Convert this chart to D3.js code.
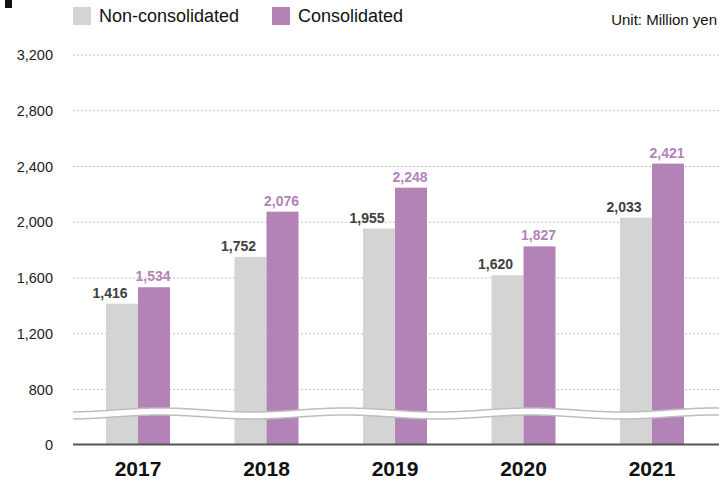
<!DOCTYPE html>
<html lang="en">
  <head>
    <meta charset="utf-8" />
    <title>Sales chart</title>
    <style>
      body {
        margin: 0;
        padding: 0;
        background: #fff;
      }

      svg text {
        font-family: "Liberation Sans", Arial, sans-serif;
      }
    </style>
  </head>
  <body>
    <svg id="chart" width="719" height="484"></svg>

    <script src="https://cdn.jsdelivr.net/npm/d3@7"></script>
    <script>
      var years = ['2017', '2018', '2019', '2020', '2021'];
      var nonConsolidated = [1416, 1752, 1955, 1620, 2033];
      var consolidated = [1534, 2076, 2248, 1827, 2421];
      var yTicks = [0, 800, 1200, 1600, 2000, 2400, 2800, 3200];
      var seriesNames = ['Non-consolidated', 'Consolidated'];

      var GREY = '#d4d4d4';
      var PURPLE = '#b383b8';

      var svg = d3.select('#chart');

      // broken axis: 0..800 squeezed into one step
      var y = d3.scaleLinear()
        .domain([0, 800, 3200])
        .range([444.5, 389.5, 55]);

      var x = d3.scaleBand()
        .domain(years)
        .range([73.75, 716.25]);

      var barW = 32;

      // scrap of the page above the chart
      svg.append('rect')
        .attr('x', 5).attr('y', 0)
        .attr('width', 7).attr('height', 8)
        .attr('fill', '#111');

      // grid
      svg.append('g')
        .selectAll('line')
        .data(yTicks.filter(function(d) { return d > 0; }))
        .join('line')
        .attr('x1', 73).attr('x2', 719)
        .attr('y1', function(d) { return y(d); })
        .attr('y2', function(d) { return y(d); })
        .attr('stroke', '#c4c4c4')
        .attr('stroke-dasharray', '2,2')
        .attr('stroke-width', 1);

      // y labels
      var yAxis = d3.axisLeft(y)
        .tickValues(yTicks)
        .tickSize(0)
        .tickPadding(0)
        .tickFormat(d3.format(','));
      var gy = svg.append('g')
        .attr('transform', 'translate(53,0)')
        .call(yAxis);
      gy.select('.domain').remove();
      gy.selectAll('text')
        .attr('font-size', 14.5)
        .attr('font-family', '"Liberation Sans", Arial, sans-serif')
        .attr('fill', '#222');

      // bars
      var center = function(d) { return x(d) + x.bandwidth() / 2; };

      svg.append('g')
        .selectAll('rect')
        .data(years)
        .join('rect')
        .attr('x', function(d) { return center(d) - barW; })
        .attr('y', function(d, i) { return y(nonConsolidated[i]); })
        .attr('width', barW)
        .attr('height', function(d, i) { return y(0) - y(nonConsolidated[i]); })
        .attr('fill', GREY);

      svg.append('g')
        .selectAll('rect')
        .data(years)
        .join('rect')
        .attr('x', function(d) { return center(d); })
        .attr('y', function(d, i) { return y(consolidated[i]); })
        .attr('width', barW)
        .attr('height', function(d, i) { return y(0) - y(consolidated[i]); })
        .attr('fill', PURPLE);

      // value labels
      svg.append('g')
        .selectAll('text')
        .data(years)
        .join('text')
        .attr('x', function(d) { return center(d) - barW / 2 - 12; })
        .attr('y', function(d, i) { return y(nonConsolidated[i]) - 6; })
        .attr('text-anchor', 'middle')
        .attr('font-size', 14)
        .attr('font-weight', 'bold')
        .attr('fill', '#404040')
        .text(function(d, i) { return d3.format(',')(nonConsolidated[i]); });

      svg.append('g')
        .selectAll('text')
        .data(years)
        .join('text')
        .attr('x', function(d) { return center(d) + barW / 2 - 1; })
        .attr('y', function(d, i) { return y(consolidated[i]) - 6; })
        .attr('text-anchor', 'middle')
        .attr('font-size', 14)
        .attr('font-weight', 'bold')
        .attr('fill', PURPLE)
        .text(function(d, i) { return d3.format(',')(consolidated[i]); });

      // wavy break band
      var wave = function(px) {
        return 410 - 2 * Math.cos(2 * Math.PI * (px - 160) / 185);
      };
      var xs = d3.range(73, 720, 2);
      var upper = xs.map(function(px) { return [px, wave(px)]; });
      var lower = xs.map(function(px) { return [px, wave(px) + 7]; });
      var line = d3.line().curve(d3.curveBasis);

      svg.append('path')
        .attr('d', line(upper.concat(lower.slice().reverse())) + 'Z')
        .attr('fill', '#fff');
      [upper, lower].forEach(function(pts) {
        svg.append('path')
          .attr('d', line(pts))
          .attr('fill', 'none')
          .attr('stroke', '#bdbdbd')
          .attr('stroke-width', 1.5);
      });

      // baseline
      svg.append('line')
        .attr('x1', 73).attr('x2', 719)
        .attr('y1', y(0)).attr('y2', y(0))
        .attr('stroke', '#555')
        .attr('stroke-width', 2);

      // x labels
      var xAxis = d3.axisBottom(x).tickSize(0).tickPadding(0);
      var gx = svg.append('g')
        .attr('transform', 'translate(0,461)')
        .call(xAxis);
      gx.select('.domain').remove();
      gx.selectAll('text')
        .attr('dy', '0.71em')
        .attr('font-size', 21)
        .attr('font-weight', 'bold')
        .attr('font-family', '"Liberation Sans", Arial, sans-serif')
        .attr('fill', '#111');

      // legend
      var legendX = [73, 272];
      var legend = svg.append('g')
        .selectAll('g')
        .data(seriesNames)
        .join('g')
        .attr('transform', function(d, i) { return 'translate(' + legendX[i] + ',7)'; });
      legend.append('rect')
        .attr('width', 18).attr('height', 18)
        .attr('fill', function(d, i) { return i ? PURPLE : GREY; });
      legend.append('text')
        .attr('x', 26).attr('y', 15)
        .attr('font-size', 18)
        .attr('fill', '#111')
        .text(function(d) { return d; });

      svg.append('text')
        .attr('x', 717).attr('y', 25)
        .attr('text-anchor', 'end')
        .attr('font-size', 15)
        .attr('fill', '#111')
        .text('Unit: Million yen');
    </script>
  </body>
</html>
